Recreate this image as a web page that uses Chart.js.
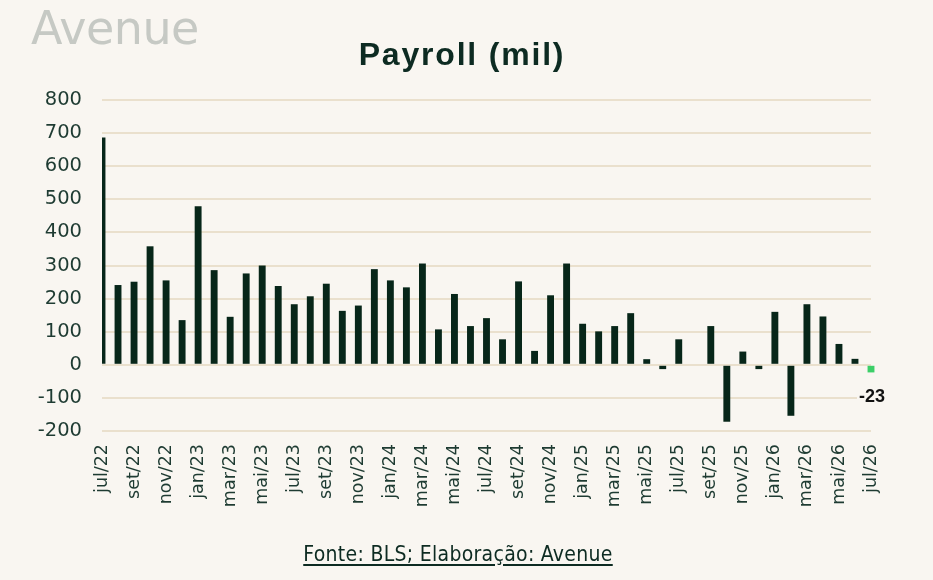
<!DOCTYPE html>
<html>
<head>
<meta charset="utf-8">
<script src="https://cdn.jsdelivr.net/npm/chart.js@4.4.1/dist/chart.umd.min.js"></script>
<style>
    html, body {
        margin: 0;
        padding: 0;
        background: #f9f6f1;
    }
    #wrap {
        position: relative;
        width: 933px;
        height: 580px;
        overflow: hidden;
        background: #f9f6f1;
    }
    #payroll-chart {
        position: absolute;
        left: 0;
        top: 0;
    }
    #logo {
        position: absolute;
        left: 31px;
        top: 1px;
        font-family: "DejaVu Sans", sans-serif;
        font-size: 46px;
        line-height: normal;
        letter-spacing: -0.5px;
        color: #c6c9c4;
    }
    #title {
        position: absolute;
        left: 0;
        width: 924px;
        top: 36px;
        text-align: center;
        font-family: "Liberation Sans", Arial, sans-serif;
        font-weight: bold;
        font-size: 32px;
        letter-spacing: 1.8px;
        color: #0d2b22;
    }
    #source {
        position: absolute;
        left: 0;
        width: 916px;
        top: 542px;
        text-align: center;
        font-family: "Liberation Sans Narrow", "DejaVu Sans Condensed", sans-serif;
        font-size: 21px;
        letter-spacing: 0.3px;
        color: #0d2b22;
        text-decoration: underline;
        text-underline-offset: 3px;
    }
</style>
</head>
<body>
<div id="wrap">
    <canvas id="payroll-chart" width="933" height="580"></canvas>
    <div id="logo">Avenue</div>
    <div id="title">Payroll (mil)</div>
    <div id="source">Fonte: BLS; Elaboração: Avenue</div>
</div>
<script>
// meses jul/22 .. jul/26
const months = [
    'jul/22', 'ago/22', 'set/22', 'out/22', 'nov/22', 'dez/22',
    'jan/23', 'fev/23', 'mar/23', 'abr/23', 'mai/23', 'jun/23',
    'jul/23', 'ago/23', 'set/23', 'out/23', 'nov/23', 'dez/23',
    'jan/24', 'fev/24', 'mar/24', 'abr/24', 'mai/24', 'jun/24',
    'jul/24', 'ago/24', 'set/24', 'out/24', 'nov/24', 'dez/24',
    'jan/25', 'fev/25', 'mar/25', 'abr/25', 'mai/25', 'jun/25',
    'jul/25', 'ago/25', 'set/25', 'out/25', 'nov/25', 'dez/25',
    'jan/26', 'fev/26', 'mar/26', 'abr/26', 'mai/26', 'jun/26',
    'jul/26'
];

// payroll, milhares (ago/25 sem dado)
const payroll = [
    687, 241, 251, 358, 255, 135,
    479, 286, 145, 276, 300, 238,
    183, 207, 245, 163, 179, 289,
    255, 234, 306, 107, 214, 117,
    141, 77, 252, 42, 210, 306,
    124, 101, 117, 156, 17, -13,
    77, null, 117, -172, 40, -13,
    160, -154, 183, 146, 63, 18,
    -23
];

const yTicks = [-200, -100, 0, 100, 200, 300, 400, 500, 600, 700, 800];

const barColor = '#072619';
const lastColor = '#3ccf68';
const gridColor = '#eae0cd';
const textColor = '#1e3b32';
const bgColor = '#f9f6f1';

const barColors = payroll.map((v, i) => i === payroll.length - 1 ? lastColor : barColor);

// rotulo do ultimo ponto, com fundo para cobrir a linha de grade
const lastLabel = {
    id: 'lastLabel',
    afterDatasetsDraw(chart) {
        const meta = chart.getDatasetMeta(0);
        const i = payroll.length - 1;
        const bar = meta.data[i];
        if (!bar) return;
        const c = chart.ctx;
        const text = String(payroll[i]);
        c.save();
        c.font = 'bold 18px "Liberation Sans", Arial, sans-serif';
        c.textAlign = 'center';
        c.textBaseline = 'middle';
        const w = c.measureText(text).width;
        const x = bar.x + 1;
        const y = bar.y + 25;
        c.fillStyle = bgColor;
        c.fillRect(x - w / 2 - 2, y - 9, w + 4, 18);
        c.fillStyle = '#111111';
        c.fillText(text, x, y);
        c.restore();
    }
};

const ctx = document.getElementById('payroll-chart').getContext('2d');
const payrollChart = new Chart(ctx, {
    type: 'bar',
    data: {
        labels: months,
        datasets: [{
            data: payroll,
            backgroundColor: barColors,
            barPercentage: 0.43,
            categoryPercentage: 1,
            clip: {left: 0, top: false, right: false, bottom: false}
        }]
    },
    options: {
        responsive: false,
        animation: false,
        layout: {
            padding: {left: 0, top: 100, right: 62, bottom: 0}
        },
        plugins: {
            legend: {display: false},
            title: {display: false},
            tooltip: {enabled: false}
        },
        scales: {
            x: {
                offset: false,
                grid: {display: false, drawTicks: false},
                border: {display: false},
                afterFit(scale) {
                    scale.height = 149;
                },
                ticks: {
                    autoSkip: false,
                    maxRotation: 90,
                    minRotation: 90,
                    padding: 13,
                    color: textColor,
                    font: {family: '"DejaVu Sans", sans-serif', size: 17.5},
                    callback(value, index) {
                        return index % 2 === 0 ? months[index] : '';
                    }
                }
            },
            y: {
                min: -200,
                max: 800,
                afterBuildTicks(scale) {
                    scale.ticks = yTicks.map(v => ({value: v}));
                },
                afterFit(scale) {
                    scale.width = 102;
                },
                grid: {color: gridColor, lineWidth: 2, drawTicks: false},
                border: {display: false},
                ticks: {
                    padding: 20,
                    color: textColor,
                    font: {family: '"DejaVu Sans", sans-serif', size: 19.5}
                }
            }
        }
    },
    plugins: [lastLabel]
});
</script>
</body>
</html>
